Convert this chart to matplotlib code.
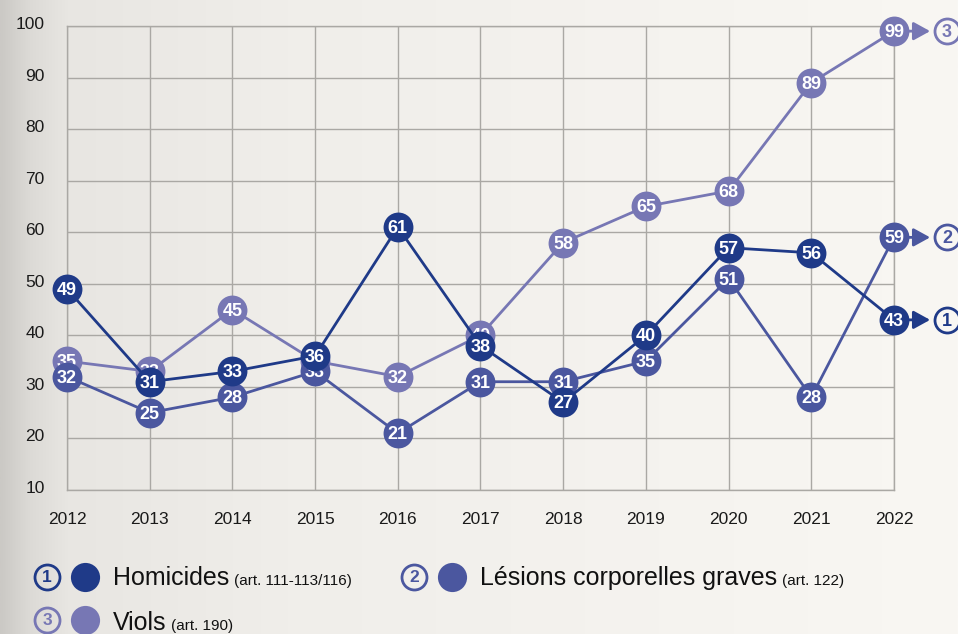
import numpy as np
import matplotlib.pyplot as plt
from matplotlib.transforms import offset_copy, ScaledTranslation
from matplotlib.colors import to_rgb

plt.rcParams['font.family'] = ['Liberation Sans', 'DejaVu Sans']

# data
years = list(range(2012, 2023))
homicides = [49, 31, 33, 36, 61, 38, 27, 40, 57, 56, 43]
lesions = [32, 25, 28, 33, 21, 31, 31, 35, 51, 28, 59]
viols = [35, 33, 45, 35, 32, 40, 58, 65, 68, 89, 99]
y_ticks = [10, 20, 30, 40, 50, 60, 70, 80, 90, 100]

names = ["Homicides", "Lésions corporelles graves", "Viols"]
articles = ["(art. 111-113/116)", "(art. 122)", "(art. 190)"]
numbers = [1, 2, 3]

col_hom = '#1f3a88'
col_les = '#4b579f'
col_vio = '#7777b4'
bg_light = '#f9f7f3'

W, H = 958, 634
fig = plt.figure(figsize=(W / 100, H / 100), dpi=100)

# background: gray on the left fading to warm white
bg = fig.add_axes([0, 0, 1, 1], zorder=0)
xs = np.linspace(0, 1, 400)
stops = [0.0, 0.03, 0.07, 0.3, 1.0]
cols = [to_rgb(c) for c in ['#cbc9c5', '#dcdad6', '#e8e6e2', '#f0eeea', bg_light]]
grad = np.stack([np.interp(xs, stops, [c[i] for c in cols]) for i in range(3)], axis=-1)
bg.imshow(grad[np.newaxis, :, :], extent=(0, W, H, 0), aspect='auto')
bg.set_xlim(0, W)
bg.set_ylim(H, 0)
bg.axis('off')

ax = fig.add_axes([67 / W, 1 - 490 / H, (894 - 67) / W, (490 - 26) / H], zorder=1)
ax.patch.set_alpha(0)
ax.set_xlim(2012, 2022)
ax.set_ylim(10, 100)
ax.set_xticks(years)
ax.set_yticks(y_ticks)
ax.grid(color='#aaa8a4', lw=1)
ax.set_axisbelow(True)
for s in ax.spines.values():
    s.set_color('#aaa8a4')
    s.set_linewidth(1)
ax.tick_params(length=0, labelsize=12.5, colors='#1a1a1a', pad=16)
for lbl in ax.get_yticklabels():
    lbl.set_transform(lbl.get_transform() + ScaledTranslation(0, 3 / 100, fig.dpi_scale_trans))

series = [(viols, col_vio, 3, 3), (lesions, col_les, 4, 2), (homicides, col_hom, 5, 1)]
circ_tr = offset_copy(ax.transData, fig=fig, x=53 * 0.72, y=0, units='points')
for vals, col, z, num in series:
    ax.plot(years, vals, color=col, lw=2, marker='o', ms=21.5, mec='none',
            zorder=z, clip_on=False)
    for x, v in zip(years, vals):
        ax.text(x, v - 0.3, str(v), color='white', fontsize=13, fontweight='bold',
                ha='center', va='center', zorder=z + 0.1)
    # arrow to the circled number at the end
    ax.annotate('', xy=(years[-1], vals[-1]), xytext=(26, 0), textcoords='offset points',
                arrowprops=dict(arrowstyle='<|-,head_length=1.0,head_width=0.55', color=col,
                                lw=2, shrinkA=0, shrinkB=0),
                annotation_clip=False, zorder=z - 0.5)
    ax.plot([years[-1]], [vals[-1]], 'o', ms=18, mfc=bg_light, mec=col, mew=2,
            transform=circ_tr, clip_on=False, zorder=z)
    ax.text(years[-1], vals[-1] - 0.3, str(num), transform=circ_tr, color=col, fontsize=13,
            fontweight='bold', ha='center', va='center', zorder=z + 0.1)

# legend
legend_cols = [col_hom, col_les, col_vio]
legend_pos = [(47, 85, 113, 577, 585), (414, 452, 480, 577, 585), (47, 85, 113, 620, 630)]
renderer = fig.canvas.get_renderer()
for name, art, num, col, (xc, xd, xt, yc, yb) in zip(names, articles, numbers, legend_cols, legend_pos):
    bg.plot([xc], [yc], 'o', ms=18, mfc='none', mec=col, mew=2)
    bg.text(xc, yc + 0.5, str(num), color=col, fontsize=12.5, fontweight='bold',
            ha='center', va='center')
    bg.plot([xd], [yc], 'o', ms=21, mfc=col, mec='none')
    t = bg.text(xt, yb, name, fontsize=18, color='#111111', va='baseline', ha='left')
    ext = t.get_window_extent(renderer)
    x_end = bg.transData.inverted().transform((ext.x1, ext.y0))[0]
    bg.text(x_end + 5, yb, art, fontsize=11, color='#111111', va='baseline', ha='left')

fig.savefig('out.png', dpi=100)
